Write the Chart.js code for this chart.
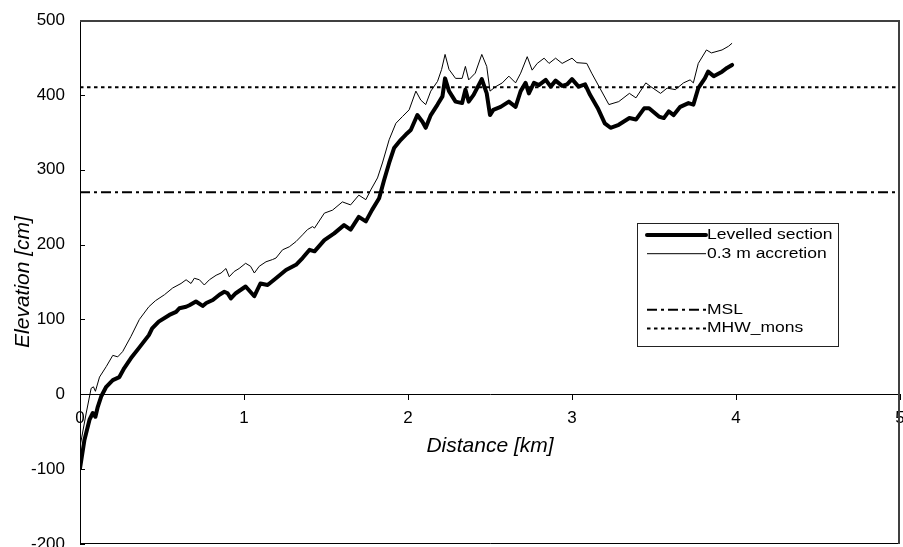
<!DOCTYPE html>
<html><head><meta charset="utf-8">
<script src="https://cdn.jsdelivr.net/npm/chart.js@4/dist/chart.umd.min.js"></script>
<style>html,body{margin:0;padding:0;background:#fff}canvas{display:block}</style>
</head><body>
<canvas id="c" width="903" height="547"></canvas>
<script>
// ---- data ----
const levelledKm = [0,0.027,0.058,0.078,0.094,0.108,0.129,0.16,0.20,0.24,0.27,0.31,0.36,0.42,0.44,0.48,0.545,0.586,0.606,0.647,0.667,0.707,0.748,0.77,0.81,0.85,0.88,0.90,0.92,0.95,1.01,1.063,1.10,1.144,1.195,1.256,1.317,1.357,1.40,1.43,1.49,1.55,1.61,1.65,1.70,1.743,1.78,1.824,1.854,1.885,1.915,1.956,1.987,2.017,2.057,2.088,2.108,2.139,2.18,2.21,2.226,2.25,2.29,2.33,2.35,2.37,2.40,2.45,2.48,2.50,2.52,2.565,2.615,2.656,2.687,2.717,2.737,2.768,2.798,2.84,2.87,2.90,2.94,2.97,3.00,3.04,3.08,3.11,3.16,3.20,3.235,3.285,3.35,3.39,3.44,3.47,3.53,3.56,3.59,3.62,3.66,3.71,3.74,3.77,3.81,3.83,3.864,3.915,3.945,3.976];
const levelledCm = [-99,-61,-34,-25,-30,-17,-3,10,19,23,35,48,62,79,88,97,106,110,115,117,119,124,118,122,126,133,137,135,128,135,144,131,148,146,155,166,173,182,193,191,206,215,226,220,237,231,246,262,286,309,329,340,347,353,373,364,356,373,387,398,422,405,391,389,407,391,400,421,402,373,380,384,391,384,405,416,402,416,413,420,411,419,412,414,421,411,414,400,381,362,356,360,369,367,382,382,371,369,378,373,384,389,387,409,422,431,425,431,436,440];
const accretionKm = [0,0.038,0.068,0.082,0.094,0.119,0.16,0.20,0.23,0.26,0.31,0.362,0.42,0.46,0.515,0.565,0.616,0.647,0.677,0.697,0.728,0.758,0.789,0.83,0.86,0.89,0.91,0.94,0.97,1.01,1.04,1.063,1.093,1.134,1.174,1.195,1.235,1.276,1.317,1.357,1.387,1.418,1.43,1.49,1.54,1.60,1.65,1.70,1.743,1.773,1.814,1.844,1.885,1.926,1.966,2.007,2.048,2.078,2.108,2.139,2.18,2.205,2.226,2.25,2.29,2.33,2.35,2.37,2.41,2.45,2.48,2.50,2.535,2.575,2.615,2.656,2.687,2.727,2.757,2.788,2.83,2.86,2.90,2.94,3.00,3.03,3.09,3.12,3.17,3.225,3.285,3.35,3.39,3.45,3.48,3.54,3.58,3.63,3.68,3.72,3.74,3.77,3.82,3.85,3.915,3.955,3.976];
const accretionCm = [-70,-25,8,10,4,23,37,52,50,57,77,100,117,125,133,142,148,153,148,155,153,146,153,159,162,168,157,164,168,175,171,162,171,177,180,182,193,197,204,213,220,224,222,242,246,257,253,266,260,273,289,309,340,362,371,380,405,393,387,405,418,434,454,434,422,422,438,420,429,454,438,405,411,416,425,416,429,451,433,442,449,442,449,442,449,443,442,429,409,387,391,402,396,416,411,402,409,407,416,420,416,442,460,456,460,465,469];
const referenceKm = [0, 5];
const mslCm = [270, 270];
const mhwCm = [410, 410];
const xTicks = [0, 1, 2, 3, 4, 5];
const yTicks = [-200, -100, 0, 100, 200, 300, 400, 500];
const seriesNames = ['Levelled section', '0.3 m accretion', 'MSL', 'MHW_mons'];

const pairs = (xs, ys) => xs.map((x, i) => ({x: x, y: ys[i]}));

Chart.defaults.font.family = '"Liberation Sans", Arial, sans-serif';
Chart.defaults.color = '#000';

const framePlugin = {
  id: 'frame',
  afterDraw(chart) {
    const {ctx, chartArea: a, scales: {y}} = chart;
    ctx.save();
    ctx.strokeStyle = '#000';
    ctx.lineWidth = 1;
    yTicks.forEach(v => {
      const py = Math.round(y.getPixelForValue(v)) + 0.5;
      ctx.beginPath(); ctx.moveTo(a.left, py); ctx.lineTo(a.left + 5, py); ctx.stroke();
    });
    // left + bottom
    ctx.beginPath();
    ctx.moveTo(a.left + 0.5, a.top); ctx.lineTo(a.left + 0.5, a.bottom - 0.5); ctx.lineTo(a.right, a.bottom - 0.5);
    ctx.stroke();
    // top + right
    ctx.strokeStyle = '#404040';
    ctx.lineWidth = 2;
    ctx.beginPath();
    ctx.moveTo(a.left, a.top + 1); ctx.lineTo(a.right - 1, a.top + 1); ctx.lineTo(a.right - 1, a.bottom);
    ctx.stroke();
    // legend
    const bx = a.left + 557, by = a.top + 203, bw = 201, bh = 123;
    ctx.fillStyle = '#fff';
    ctx.fillRect(bx, by, bw, bh);
    ctx.strokeStyle = '#222';
    ctx.lineWidth = 1;
    ctx.strokeRect(bx + 0.5, by + 0.5, bw, bh);
    const rows = [0, 1, 4, 5];
    chart.data.datasets.forEach((ds, i) => {
      const ry = by + 12 + rows[i] * 18.7;
      ctx.save();
      ctx.strokeStyle = '#000';
      ctx.lineWidth = ds.borderWidth;
      ctx.lineCap = i === 0 ? 'round' : 'butt';
      ctx.setLineDash(ds.borderDash || []);
      ctx.beginPath(); ctx.moveTo(bx + 10, ry); ctx.lineTo(bx + 69, ry); ctx.stroke();
      ctx.restore();
      ctx.save();
      ctx.fillStyle = '#000';
      ctx.font = '14px "Liberation Sans", Arial, sans-serif';
      ctx.textBaseline = 'middle';
      ctx.translate(bx + 70, ry);
      ctx.scale(1.25, 1);
      ctx.fillText(ds.label, 0, 0);
      ctx.restore();
    });
    ctx.restore();
  }
};

new Chart(document.getElementById('c'), {
  type: 'line',
  data: {
    datasets: [
      {label: seriesNames[0], data: pairs(levelledKm, levelledCm), borderColor: '#000', borderWidth: 4, pointRadius: 0, tension: 0, borderJoinStyle: 'round', borderCapStyle: 'round'},
      {label: seriesNames[1], data: pairs(accretionKm, accretionCm), borderColor: '#000', borderWidth: 1, pointRadius: 0, tension: 0},
      {label: seriesNames[2], data: pairs(referenceKm, mslCm), borderColor: '#000', borderWidth: 2, borderDash: [10, 4, 3, 4], pointRadius: 0},
      {label: seriesNames[3], data: pairs(referenceKm, mhwCm), borderColor: '#000', borderWidth: 2, borderDash: [3.5, 3.5], pointRadius: 0}
    ]
  },
  options: {
    responsive: false,
    animation: false,
    layout: {padding: {top: 20, right: 3, bottom: 3, left: 0}},
    plugins: {legend: {display: false}, tooltip: {enabled: false}},
    scales: {
      x: {
        type: 'linear', min: 0, max: 5, position: {y: 0},
        afterBuildTicks: s => { s.ticks = xTicks.map(v => ({value: v})); },
        afterFit: s => { s.paddingLeft = 0; s.paddingRight = 0; },
        ticks: {padding: 9, font: {size: 17}, color: '#000', maxRotation: 0, autoSkip: false},
        grid: {display: true, drawOnChartArea: false, drawTicks: true, tickLength: 5, color: '#000'},
        border: {display: true, color: '#000', width: 1},
        title: {display: true, text: 'Distance [km]', color: '#000', font: {size: 21, style: 'italic'}, padding: {top: -4, bottom: 0}}
      },
      y: {
        type: 'linear', min: -200, max: 500, position: 'left',
        afterBuildTicks: s => { s.ticks = yTicks.map(v => ({value: v})); },
        afterFit: s => { s.width = 80; s.paddingTop = 0; s.paddingBottom = 0; },
        ticks: {padding: 15, font: {size: 17}, color: '#000'},
        grid: {display: false, drawTicks: false},
        border: {display: true, color: '#000', width: 1},
        title: {display: true, text: 'Elevation [cm]', color: '#000', font: {size: 21, style: 'italic'}, padding: {top: 11, bottom: 0}}
      }
    }
  },
  plugins: [framePlugin]
});
</script>
</body></html>
